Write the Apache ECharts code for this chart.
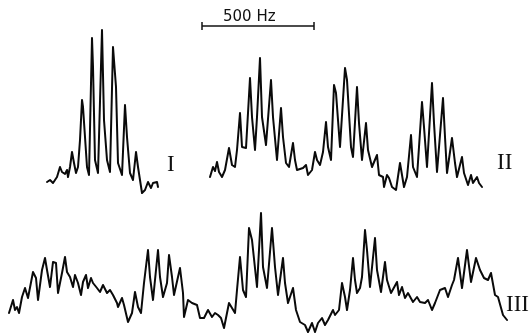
<!DOCTYPE html>
<html>
<head>
<meta charset="utf-8">
<title>Spectra I, II, III</title>
<script src="https://cdn.jsdelivr.net/npm/echarts@6/dist/echarts.min.js"></script>
<style>
  html, body { margin: 0; padding: 0; background: #fff; }
  #chart { width: 529px; height: 333px; }
</style>
</head>
<body>
<div id="chart"></div>
<script>
// trace I : position / intensity
var xI = [47, 50, 53, 57, 60, 62, 65, 67, 68, 70, 72, 74, 76, 78, 80, 82, 83, 87, 89, 92,
  93, 95, 98, 102, 104, 107, 110, 113, 116, 118, 122, 125, 127, 130, 133, 136, 138, 142,
  145, 148, 151, 153, 157, 158];
var yI = [151, 153, 150, 156, 166, 161, 159, 163, 156, 166, 181, 170, 160, 166, 193, 233,
  226, 166, 158, 295, 266, 173, 160, 303, 213, 173, 161, 286, 246, 170, 158, 228, 196, 160,
  153, 181, 166, 140, 143, 151, 145, 150, 151, 146];

// trace II
var xII = [210, 213, 215, 217, 219, 222, 225, 229, 232, 235, 237, 240, 242, 246, 250, 252,
  255, 257, 260, 262, 266, 271, 273, 277, 281, 283, 286, 289, 293, 295, 297, 303, 306, 308,
  312, 315, 317, 320, 323, 326, 328, 331, 334, 336, 340, 342, 345, 347, 351, 353, 357, 359,
  362, 366, 368, 372, 377, 379, 383, 384, 387, 389, 392, 396, 400, 404, 407, 411, 413, 417,
  422, 424, 427, 432, 434, 437, 443, 445, 447, 452, 455, 457, 462, 464, 468, 471, 473, 477,
  479, 482];
var yII = [156, 166, 162, 171, 161, 156, 163, 185, 168, 166, 183, 220, 186, 185, 255, 216,
  183, 216, 275, 216, 188, 253, 216, 173, 225, 196, 170, 166, 190, 173, 163, 165, 168, 158,
  163, 181, 173, 168, 181, 211, 186, 173, 248, 240, 186, 185, 265, 253, 186, 176, 246, 210,
  173, 210, 183, 166, 178, 158, 156, 146, 158, 155, 146, 143, 170, 146, 156, 198, 166, 156,
  231, 206, 166, 250, 210, 161, 235, 196, 160, 195, 170, 156, 176, 160, 148, 158, 150, 156,
  150, 146];

// trace III
var xIII = [9, 13, 15, 17, 19, 22, 25, 28, 33, 36, 38, 42, 45, 47, 50, 53, 56, 58, 62, 65,
  67, 70, 73, 75, 78, 81, 83, 86, 88, 91, 93, 97, 100, 103, 107, 110, 113, 117, 118, 122,
  124, 128, 132, 135, 138, 141, 144, 148, 150, 153, 158, 160, 163, 167, 169, 172, 174, 180,
  183, 184, 188, 192, 197, 200, 204, 208, 212, 215, 218, 221, 224, 227, 229, 232, 235, 237,
  240, 243, 246, 249, 252, 257, 261, 263, 267, 272, 275, 278, 283, 285, 288, 293, 296, 300,
  305, 308, 312, 315, 318, 322, 325, 328, 333, 335, 339, 342, 345, 347, 350, 353, 355, 357,
  360, 362, 365, 367, 370, 375, 377, 381, 385, 387, 391, 397, 399, 402, 405, 408, 413, 417,
  420, 425, 428, 432, 435, 440, 445, 448, 452, 454, 458, 462, 467, 471, 476, 480, 484, 488,
  491, 495, 498, 503, 507];
var yIII = [20, 33, 23, 26, 20, 36, 45, 35, 61, 55, 33, 63, 75, 63, 46, 71, 70, 40, 60, 76,
  61, 56, 46, 58, 50, 38, 51, 58, 45, 55, 50, 45, 41, 48, 40, 43, 38, 30, 26, 35, 28, 11,
  20, 41, 26, 20, 50, 83, 56, 33, 83, 56, 36, 50, 78, 56, 38, 65, 40, 16, 33, 30, 28, 15,
  15, 23, 16, 20, 18, 15, 5, 20, 30, 25, 20, 43, 76, 43, 36, 105, 93, 46, 120, 66, 45, 105,
  66, 38, 75, 50, 30, 45, 23, 11, 8, 1, 10, 1, 10, 15, 8, 13, 23, 18, 23, 50, 36, 23, 43,
  75, 53, 40, 45, 56, 103, 83, 46, 95, 63, 41, 71, 53, 40, 51, 38, 46, 35, 40, 31, 36, 31,
  30, 33, 23, 30, 43, 45, 36, 48, 53, 75, 45, 83, 51, 75, 63, 55, 53, 60, 38, 36, 18, 13];

var traceNames = ['I', 'II', 'III'];

// scale bar: 500 Hz spans this stretch of the frequency axis
var scaleBarLabel = '500 Hz';
var scaleBarX = [202, 314];
var scaleBarY = 307;

function pairs(xs, ys) {
  var out = [];
  for (var i = 0; i < xs.length; i++) out.push([xs[i], ys[i]]);
  return out;
}

var chart = echarts.init(document.getElementById('chart'));

var traceStyle = { color: '#0a0a0a', width: 2, join: 'round', cap: 'round' };

var option = {
  animation: false,
  backgroundColor: '#fff',
  grid: { left: 0, right: 0, top: 0, bottom: 0 },
  xAxis: { type: 'value', min: 0, max: 529, show: false },
  yAxis: { type: 'value', min: 0, max: 333, show: false },
  series: [
    { name: traceNames[0], type: 'line', showSymbol: false, lineStyle: traceStyle, data: pairs(xI, yI) },
    { name: traceNames[1], type: 'line', showSymbol: false, lineStyle: traceStyle, data: pairs(xII, yII) },
    { name: traceNames[2], type: 'line', showSymbol: false, lineStyle: traceStyle, data: pairs(xIII, yIII) },
    {
      name: 'scale', type: 'line',
      symbol: 'rect', symbolSize: [1.5, 8], showSymbol: true,
      itemStyle: { color: '#111' },
      lineStyle: { color: '#111', width: 1.3 },
      data: [[scaleBarX[0], scaleBarY], [scaleBarX[1], scaleBarY]]
    }
  ],
  graphic: [
    { type: 'text', left: 223, top: 10,
      style: { text: scaleBarLabel, font: '15px "DejaVu Sans"', fill: '#111' } },
    { type: 'text', left: 167, top: 153,
      style: { text: traceNames[0], font: '23px "Liberation Serif"', fill: '#111' } },
    { type: 'text', left: 497, top: 151,
      style: { text: traceNames[1], font: '23px "Liberation Serif"', fill: '#111' } },
    { type: 'text', left: 506, top: 293,
      style: { text: traceNames[2], font: '23px "Liberation Serif"', fill: '#111' } }
  ]
};

chart.setOption(option);
</script>
</body>
</html>
